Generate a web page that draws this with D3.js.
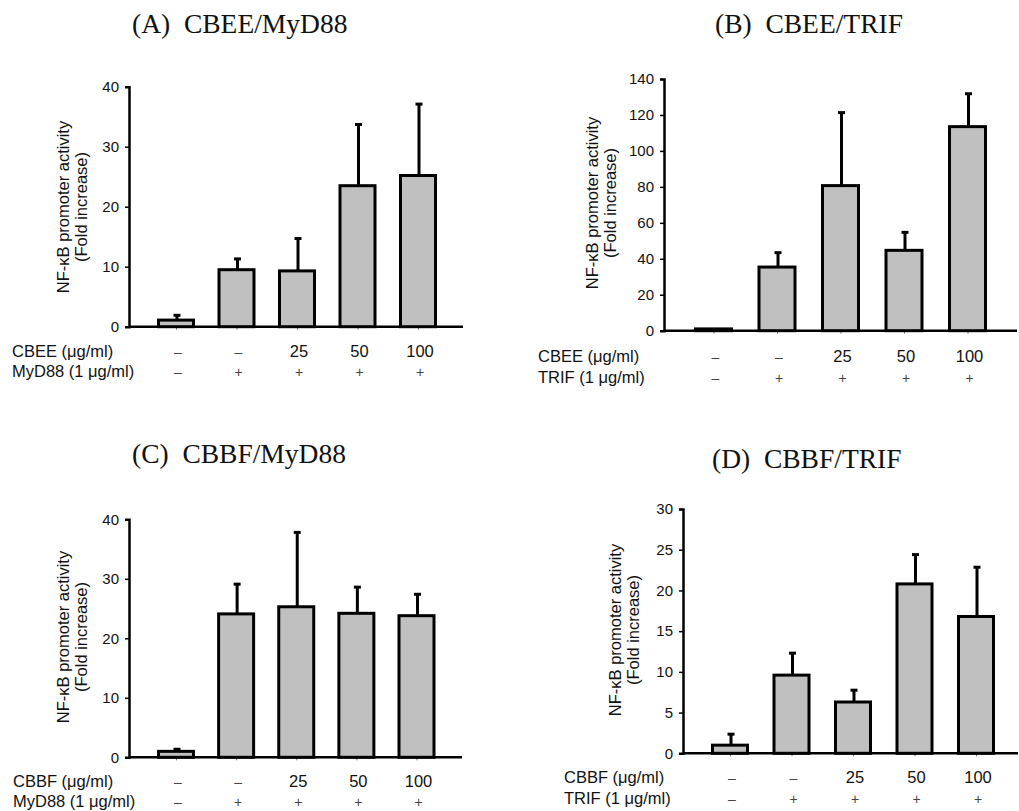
<!DOCTYPE html>
<html>
<head>
<meta charset="utf-8">
<script src="https://cdn.jsdelivr.net/npm/d3@7"></script>
<style>
  html, body { margin: 0; padding: 0; background: #fff; }
  svg { display: block; }
</style>
</head>
<body>
<svg id="fig" width="1019" height="811"></svg>
<script>
// Treatment groups (x categories) and the two label rows under each panel
const groups = ["ctrl", "agonist", "d25", "d50", "d100"];
const doseLabels = ["\u2013", "\u2013", "25", "50", "100"];
const agonistLabels = ["\u2013", "+", "+", "+", "+"];

// Panel titles and row captions
const panelTitles = ["(A)  CBEE/MyD88", "(B)  CBEE/TRIF", "(C)  CBBF/MyD88", "(D)  CBBF/TRIF"];
const doseCaptions = ["CBEE (\u03bcg/ml)", "CBEE (\u03bcg/ml)", "CBBF (\u03bcg/ml)", "CBBF (\u03bcg/ml)"];
const agonistCaptions = ["MyD88 (1 \u03bcg/ml)", "TRIF (1 \u03bcg/ml)", "MyD88 (1 \u03bcg/ml)", "TRIF (1 \u03bcg/ml)"];

// NF-kB promoter activity, fold increase (mean and upper error)
const cbeeMyd88Mean = [1.1, 9.5, 9.3, 23.5, 25.2];
const cbeeMyd88Err  = [0.8, 1.8, 5.4, 10.2, 11.9];
const cbeeTrifMean  = [1.0, 35.4, 80.7, 44.7, 113.5];
const cbeeTrifErr   = [0, 8.0, 40.6, 10.0, 18.3];
const cbbfMyd88Mean = [1.0, 24.1, 25.3, 24.2, 23.8];
const cbbfMyd88Err  = [0.35, 5.0, 12.5, 4.4, 3.6];
const cbbfTrifMean  = [1.0, 9.6, 6.3, 20.8, 16.8];
const cbbfTrifErr   = [1.35, 2.7, 1.45, 3.6, 6.05];

// Y axis tick values per panel
const ticksA = [0, 10, 20, 30, 40];
const ticksB = [0, 20, 40, 60, 80, 100, 120, 140];
const ticksC = [0, 10, 20, 30, 40];
const ticksD = [0, 5, 10, 15, 20, 25, 30];

const yTitle1 = "NF-\u03baB promoter activity";
const yTitle2 = "(Fold increase)";

// Panel geometry
const panels = [
  { mean: cbeeMyd88Mean, err: cbeeMyd88Err, ticks: ticksA, title: panelTitles[0],
    dose: doseCaptions[0], agonist: agonistCaptions[0],
    titleX: 132, titleY: 33, axisX: 129, axisEnd: 463, y0: 326.7, yTop: 86.7,
    x0: 176, x1: 418, barW: 35, capX: 12, row1: 357, row2: 377, ytX: 63, ytY: 207 },
  { mean: cbeeTrifMean, err: cbeeTrifErr, ticks: ticksB, title: panelTitles[1],
    dose: doseCaptions[1], agonist: agonistCaptions[1],
    titleX: 715, titleY: 33, axisX: 664, axisEnd: 1017, y0: 330.7, yTop: 79,
    x0: 713.5, x1: 967.5, barW: 36, capX: 538, row1: 362, row2: 383, ytX: 592, ytY: 203 },
  { mean: cbbfMyd88Mean, err: cbbfMyd88Err, ticks: ticksC, title: panelTitles[2],
    dose: doseCaptions[2], agonist: agonistCaptions[2],
    titleX: 132, titleY: 463, axisX: 129, axisEnd: 462, y0: 757.3, yTop: 519.3,
    x0: 176, x1: 416.5, barW: 35, capX: 13, row1: 787, row2: 807, ytX: 63, ytY: 637 },
  { mean: cbbfTrifMean, err: cbbfTrifErr, ticks: ticksD, title: panelTitles[3],
    dose: doseCaptions[3], agonist: agonistCaptions[3],
    titleX: 712, titleY: 468, axisX: 683, axisEnd: 1018, y0: 753.3, yTop: 509,
    x0: 730, x1: 976, barW: 35, capX: 564, row1: 783, row2: 804, ytX: 615, ytY: 630 }
];

const svg = d3.select("#fig");
const sans = "'Liberation Sans', Arial, sans-serif";
const serif = "'Liberation Serif', 'Times New Roman', serif";

panels.forEach(p => {
  const g = svg.append("g");
  const yMax = p.ticks[p.ticks.length - 1];
  const y = d3.scaleLinear().domain([0, yMax]).range([p.y0, p.yTop]);
  const x = d3.scalePoint().domain(groups).range([p.x0, p.x1]);

  // Panel title
  g.append("text")
    .attr("x", p.titleX).attr("y", p.titleY)
    .attr("font-family", serif).attr("font-size", 27.5)
    .attr("fill", "#111")
    .style("white-space", "pre")
    .text(p.title);

  // Y axis
  const yAxis = d3.axisLeft(y).tickValues(p.ticks).tickSize(4).tickPadding(6);
  const ya = g.append("g").attr("transform", `translate(${p.axisX},0)`).call(yAxis);
  ya.select(".domain").attr("stroke", "#000").attr("stroke-width", 2.5);
  ya.selectAll(".tick line").attr("stroke", "#000").attr("stroke-width", 1.5);
  ya.selectAll(".tick text").attr("font-family", sans).attr("font-size", 15).attr("fill", "#111");

  // X ticks under each bar
  const xAxis = d3.axisBottom(x).tickSize(3).tickFormat("");
  const xa = g.append("g").attr("transform", `translate(0,${p.y0})`).call(xAxis);
  xa.select(".domain").remove();
  xa.selectAll(".tick line").attr("stroke", "#777").attr("stroke-width", 1);

  // Baseline
  g.append("line")
    .attr("x1", p.axisX).attr("x2", p.axisEnd)
    .attr("y1", p.y0).attr("y2", p.y0)
    .attr("stroke", "#000").attr("stroke-width", 2.5);

  const rows = groups.map((k, i) => ({ key: k, mean: p.mean[i], err: p.err[i] }));

  // Error bars (upper only)
  const eb = g.selectAll(".err").data(rows.filter(d => d.err > 0)).enter().append("g");
  eb.append("line")
    .attr("x1", d => x(d.key) + 1).attr("x2", d => x(d.key) + 1)
    .attr("y1", d => y(d.mean)).attr("y2", d => y(d.mean + d.err))
    .attr("stroke", "#000").attr("stroke-width", 3);
  eb.append("line")
    .attr("x1", d => x(d.key) - 2.5).attr("x2", d => x(d.key) + 4.5)
    .attr("y1", d => y(d.mean + d.err)).attr("y2", d => y(d.mean + d.err))
    .attr("stroke", "#000").attr("stroke-width", 3);

  // Bars
  g.selectAll(".bar").data(rows).enter().append("rect")
    .attr("x", d => x(d.key) - p.barW / 2)
    .attr("width", p.barW)
    .attr("y", d => y(d.mean))
    .attr("height", d => y(0) - y(d.mean))
    .attr("fill", "#c0c0c0")
    .attr("stroke", "#000")
    .attr("stroke-width", 3);

  // Y axis title (two lines)
  [yTitle1, yTitle2].forEach((t, i) => {
    g.append("text")
      .attr("transform", `translate(${p.ytX + i * 18},${p.ytY}) rotate(-90)`)
      .attr("text-anchor", "middle")
      .attr("dominant-baseline", "central")
      .attr("font-family", sans).attr("font-size", 16.5)
      .attr("fill", "#111")
      .text(t);
  });

  // Treatment rows
  [[p.dose, doseLabels, p.row1], [p.agonist, agonistLabels, p.row2]].forEach(([cap, labels, yy]) => {
    g.append("text")
      .attr("x", p.capX).attr("y", yy)
      .attr("font-family", sans).attr("font-size", 16.5)
      .attr("fill", "#111")
      .text(cap);
    g.selectAll(null).data(groups).enter().append("text")
      .attr("x", k => x(k) + 2)
      .attr("y", yy)
      .attr("text-anchor", "middle")
      .attr("font-family", sans)
      .attr("font-size", (k, i) => (labels[i] === "+" || labels[i] === "\u2013") ? 14 : 16.5)
      .attr("fill", (k, i) => (labels[i] === "+" || labels[i] === "\u2013") ? "#444" : "#111")
      .text((k, i) => labels[i]);
  });
});
</script>
</body>
</html>
